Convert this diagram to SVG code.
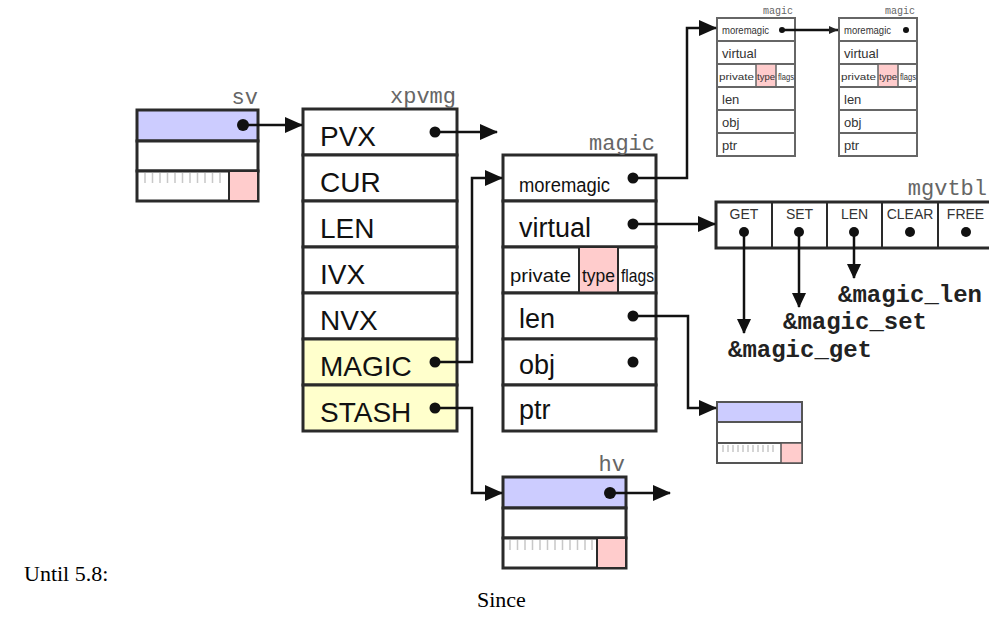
<svg xmlns="http://www.w3.org/2000/svg" width="989" height="617" viewBox="0 0 989 617">
<style>
.bx{fill:#fff;stroke:#2a2a2a;stroke-width:3}
.bl{fill:#ccccff;stroke:#2a2a2a;stroke-width:3}
.pk{fill:#ffcccc;stroke:#2a2a2a;stroke-width:2}
.yl{fill:#ffffcc;stroke:#2a2a2a;stroke-width:3}
.tk{stroke:#c8c8c8;stroke-width:1.5}
.big{font-family:"Liberation Sans",Arial,sans-serif;font-size:28px;fill:#111}
.mid{font-family:"Liberation Sans",Arial,sans-serif;font-size:27px;fill:#111}
.cond{font-family:"Liberation Sans",Arial,sans-serif;fill:#111}
.lab{font-family:"Liberation Mono","Courier New",monospace;font-size:22px;fill:#666}
.slab{font-family:"Liberation Mono","Courier New",monospace;font-size:10px;fill:#666}
.fn{font-family:"Liberation Mono","Courier New",monospace;font-size:24px;font-weight:bold;fill:#222}
.vt{font-family:"Liberation Sans",Arial,sans-serif;font-size:14px;fill:#333}
.sm{fill:#fff;stroke:#666;stroke-width:2}
.smt{font-family:"Liberation Sans",Arial,sans-serif;fill:#333}
.cap{font-family:"Liberation Serif","Times New Roman",serif;font-size:22px;fill:#000}
.cn{fill:none;stroke:#111;stroke-width:2.5}
.dot{fill:#111}
</style>
<defs>
<marker id="ah" markerWidth="18" markerHeight="16" refX="17" refY="8" orient="auto" markerUnits="userSpaceOnUse"><path d="M0,0 L18,8 L0,16 z" fill="#111"/></marker>
<marker id="ahs" markerWidth="15" markerHeight="14" refX="14" refY="7" orient="auto" markerUnits="userSpaceOnUse"><path d="M0,0 L15,7 L0,14 z" fill="#111"/></marker>
<marker id="aht" markerWidth="9" markerHeight="8" refX="9" refY="4" orient="auto" markerUnits="userSpaceOnUse"><path d="M0,0 L9,4 L0,8 z" fill="#222"/></marker>
</defs>

<g id="sv">
<rect class="bl" x="137" y="110" width="121" height="31"/>
<rect class="bx" x="137" y="141" width="121" height="30"/>
<rect class="bx" x="137" y="171" width="121" height="30"/>
<rect class="pk" x="229" y="171" width="29" height="30"/>
<path class="tk" d="M145,173v10M152.5,173v10M160,173v10M167.5,173v10M175,173v10M182.5,173v10M190,173v10M197.5,173v10M205,173v10M212.5,173v10M220,173v10"/>
<text class="lab" x="258" y="104" text-anchor="end">sv</text>
</g>

<g id="xpvmg">
<rect class="bx" x="303" y="109" width="154" height="46"/>
<rect class="bx" x="303" y="155" width="154" height="46"/>
<rect class="bx" x="303" y="201" width="154" height="46"/>
<rect class="bx" x="303" y="247" width="154" height="46"/>
<rect class="bx" x="303" y="293" width="154" height="46"/>
<rect class="yl" x="303" y="339" width="154" height="46"/>
<rect class="yl" x="303" y="385" width="154" height="46"/>
<text class="lab" x="456" y="103" text-anchor="end">xpvmg</text>
<text class="big" x="320" y="146">PVX</text>
<text class="big" x="320" y="192">CUR</text>
<text class="big" x="320" y="238">LEN</text>
<text class="big" x="320" y="284">IVX</text>
<text class="big" x="320" y="330">NVX</text>
<text class="big" x="320" y="376">MAGIC</text>
<text class="big" x="320" y="422">STASH</text>
</g>

<g id="magic">
<rect class="bx" x="503" y="155" width="153" height="46"/>
<rect class="bx" x="503" y="201" width="153" height="46"/>
<rect class="bx" x="503" y="247" width="153" height="46"/>
<rect class="pk" x="579" y="247" width="39" height="46"/>
<rect class="bx" x="503" y="293" width="153" height="46"/>
<rect class="bx" x="503" y="339" width="153" height="46"/>
<rect class="bx" x="503" y="385" width="153" height="46"/>
<text class="lab" x="655" y="150" text-anchor="end">magic</text>
<text class="cond" x="519" y="192" font-size="20" textLength="91" lengthAdjust="spacingAndGlyphs">moremagic</text>
<text class="mid" x="519" y="237">virtual</text>
<text class="cond" x="510" y="282" font-size="19" textLength="61" lengthAdjust="spacingAndGlyphs">private</text>
<text class="cond" x="582" y="282" font-size="19" textLength="33" lengthAdjust="spacingAndGlyphs">type</text>
<text class="cond" x="621" y="282" font-size="19" textLength="33" lengthAdjust="spacingAndGlyphs">flags</text>
<text class="mid" x="519" y="328">len</text>
<text class="mid" x="519" y="374">obj</text>
<text class="mid" x="519" y="419">ptr</text>
</g>

<g id="magic2">
<rect class="sm" x="717" y="18" width="78" height="23"/>
<rect class="sm" x="717" y="41" width="78" height="23"/>
<rect class="sm" x="717" y="64" width="78" height="23"/>
<rect x="756" y="64" width="20" height="23" fill="#ffcccc" stroke="#666" stroke-width="1.5"/>
<rect class="sm" x="717" y="87" width="78" height="23"/>
<rect class="sm" x="717" y="110" width="78" height="23"/>
<rect class="sm" x="717" y="133" width="78" height="23"/>
<text class="slab" x="793" y="14" text-anchor="end">magic</text>
<text class="smt" x="722" y="34" font-size="11" textLength="47" lengthAdjust="spacingAndGlyphs">moremagic</text>
<text class="smt" x="722" y="58" font-size="13">virtual</text>
<text class="smt" x="719" y="80" font-size="9" textLength="35" lengthAdjust="spacingAndGlyphs">private</text>
<text class="smt" x="757" y="80" font-size="9" textLength="18" lengthAdjust="spacingAndGlyphs">type</text>
<text class="smt" x="778" y="80" font-size="9" textLength="16" lengthAdjust="spacingAndGlyphs">flags</text>
<text class="smt" x="722" y="104" font-size="13">len</text>
<text class="smt" x="722" y="127" font-size="13">obj</text>
<text class="smt" x="722" y="150" font-size="13">ptr</text>
</g>

<g id="magic3">
<rect class="sm" x="839" y="18" width="78" height="23"/>
<rect class="sm" x="839" y="41" width="78" height="23"/>
<rect class="sm" x="839" y="64" width="78" height="23"/>
<rect x="878" y="64" width="20" height="23" fill="#ffcccc" stroke="#666" stroke-width="1.5"/>
<rect class="sm" x="839" y="87" width="78" height="23"/>
<rect class="sm" x="839" y="110" width="78" height="23"/>
<rect class="sm" x="839" y="133" width="78" height="23"/>
<text class="slab" x="915" y="14" text-anchor="end">magic</text>
<text class="smt" x="844" y="34" font-size="11" textLength="47" lengthAdjust="spacingAndGlyphs">moremagic</text>
<text class="smt" x="844" y="58" font-size="13">virtual</text>
<text class="smt" x="841" y="80" font-size="9" textLength="35" lengthAdjust="spacingAndGlyphs">private</text>
<text class="smt" x="879" y="80" font-size="9" textLength="18" lengthAdjust="spacingAndGlyphs">type</text>
<text class="smt" x="900" y="80" font-size="9" textLength="16" lengthAdjust="spacingAndGlyphs">flags</text>
<text class="smt" x="844" y="104" font-size="13">len</text>
<text class="smt" x="844" y="127" font-size="13">obj</text>
<text class="smt" x="844" y="150" font-size="13">ptr</text>
<circle class="dot" cx="906" cy="30" r="3"/>
</g>

<g id="mgvtbl">
<rect class="bx" x="716" y="202" width="277" height="46"/>
<path d="M772,202v46M827,202v46M882,202v46M938,202v46" stroke="#2a2a2a" stroke-width="2"/>
<text class="lab" x="987" y="195" text-anchor="end">mgvtbl</text>
<text class="vt" x="744" y="219" text-anchor="middle">GET</text>
<text class="vt" x="799.5" y="219" text-anchor="middle">SET</text>
<text class="vt" x="854.5" y="219" text-anchor="middle">LEN</text>
<text class="vt" x="910" y="219" text-anchor="middle">CLEAR</text>
<text class="vt" x="965.5" y="219" text-anchor="middle">FREE</text>
<circle class="dot" cx="910" cy="232" r="5"/>
<circle class="dot" cx="966" cy="232" r="5"/>
</g>

<g id="svsmall">
<rect x="717" y="402" width="85" height="20" fill="#ccccff" stroke="#555" stroke-width="2"/>
<rect x="717" y="422" width="85" height="21" fill="#fff" stroke="#555" stroke-width="2"/>
<rect x="717" y="443" width="85" height="20" fill="#fff" stroke="#555" stroke-width="2"/>
<rect x="781" y="443" width="21" height="20" fill="#ffcccc" stroke="#555" stroke-width="1.5"/>
<path class="tk" stroke-width="1" d="M723,445v7M728,445v7M733,445v7M738,445v7M743,445v7M748,445v7M753,445v7M758,445v7M763,445v7M768,445v7M773,445v7"/>
</g>

<g id="hv">
<rect class="bl" x="503" y="477" width="123" height="31"/>
<rect class="bx" x="503" y="508" width="123" height="30"/>
<rect class="bx" x="503" y="538" width="123" height="30"/>
<rect class="pk" x="597" y="538" width="29" height="30"/>
<path class="tk" d="M510,540v10M517.5,540v10M525,540v10M532.5,540v10M540,540v10M547.5,540v10M555,540v10M562.5,540v10M570,540v10M577.5,540v10M585,540v10M592,540v10"/>
<text class="lab" x="625" y="471" text-anchor="end">hv</text>
</g>

<g id="funcs">
<text class="fn" x="838" y="302">&amp;magic_len</text>
<text class="fn" x="783" y="329">&amp;magic_set</text>
<text class="fn" x="728" y="357">&amp;magic_get</text>
</g>

<g id="connectors">
<path class="cn" d="M243,125H302" marker-end="url(#ah)"/>
<circle class="dot" cx="243" cy="125" r="6"/>
<path class="cn" d="M435,132H497" marker-end="url(#ah)"/>
<circle class="dot" cx="435" cy="132" r="5.5"/>
<path class="cn" d="M435,362H472V178H502" marker-end="url(#ah)"/>
<circle class="dot" cx="435" cy="362" r="5.5"/>
<path class="cn" d="M435,408H472V493H502" marker-end="url(#ah)"/>
<circle class="dot" cx="435" cy="408" r="5.5"/>
<path class="cn" d="M633,178H687V28H716" marker-end="url(#ah)"/>
<circle class="dot" cx="633" cy="178" r="5.5"/>
<path class="cn" d="M633,224H715" marker-end="url(#ah)"/>
<circle class="dot" cx="633" cy="224" r="5.5"/>
<path class="cn" stroke-width="2" d="M633,316H688V408H716" marker-end="url(#ah)"/>
<circle class="dot" cx="633" cy="316" r="5.5"/>
<circle class="dot" cx="633" cy="362" r="5.5"/>
<path class="cn" d="M610,493H670" marker-end="url(#ah)"/>
<circle class="dot" cx="610" cy="493" r="6"/>
<path class="cn" stroke-width="1.3" d="M782,30H838" marker-end="url(#aht)"/>
<circle class="dot" cx="782" cy="30" r="3"/>
<path class="cn" stroke-width="2" d="M744,232V333" marker-end="url(#ahs)"/>
<circle class="dot" cx="744" cy="232" r="5"/>
<path class="cn" stroke-width="2" d="M799,232V307" marker-end="url(#ahs)"/>
<circle class="dot" cx="799" cy="232" r="5"/>
<path class="cn" stroke-width="2" d="M854,232V278" marker-end="url(#ahs)"/>
<circle class="dot" cx="854" cy="232" r="5"/>
</g>

<text class="cap" x="24" y="581">Until 5.8:</text>
<text class="cap" x="477" y="607">Since</text>
</svg>
